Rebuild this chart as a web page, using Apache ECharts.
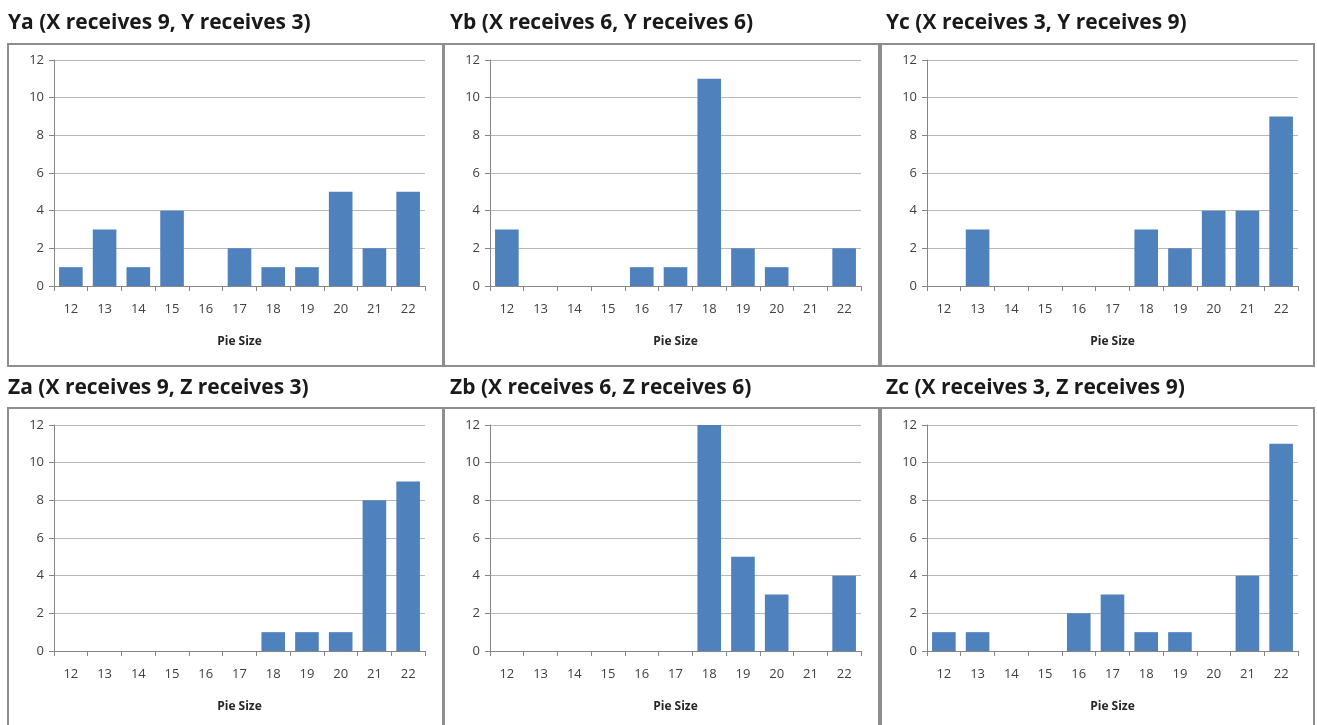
<!DOCTYPE html>
<html>
<head>
<meta charset="utf-8">
<script src="https://cdn.jsdelivr.net/npm/echarts@6/dist/echarts.min.js"></script>
<style>
html,body{margin:0;padding:0;background:#fff;}
#c{width:1317px;height:725px;}
</style>
</head>
<body>
<div id="c"></div>
<script>
const categories = ['12','13','14','15','16','17','18','19','20','21','22'];
const titles = [
  'Ya (X receives 9, Y receives 3)',
  'Yb (X receives 6, Y receives 6)',
  'Yc (X receives 3, Y receives 9)',
  'Za (X receives 9, Z receives 3)',
  'Zb (X receives 6, Z receives 6)',
  'Zc (X receives 3, Z receives 9)'
];
const Ya = [1,3,1,4,0,2,1,1,5,2,5];
const Yb = [3,0,0,0,1,1,11,2,1,0,2];
const Yc = [0,3,0,0,0,0,3,2,4,4,9];
const Za = [0,0,0,0,0,0,1,1,1,8,9];
const Zb = [0,0,0,0,0,0,12,5,3,0,4];
const Zc = [1,1,0,0,2,3,1,1,0,4,11];
const panels = [Ya, Yb, Yc, Za, Zb, Zc];
const xAxisName = 'Pie Size';

const gridLefts = [54, 490, 927];
const gridTops = [60, 425];
const boxX = [[8,443],[444,879],[881,1314]];
const boxY = [[44,366],[408,740]];
const titleX = [8, 450, 886];
const titleY = [13, 378];

const option = {
  animation:false,
  backgroundColor:'#fff',
  title:[], grid:[], xAxis:[], yAxis:[], series:[],
  graphic:[]
};
for (let i=0;i<6;i++){
  const r = Math.floor(i/3), c = i%3;
  option.graphic.push({
    type:'rect', silent:true, z:-1,
    shape:{x:boxX[c][0], y:boxY[r][0], width:boxX[c][1]-boxX[c][0], height:boxY[r][1]-boxY[r][0]},
    style:{fill:'#fff', stroke:'#8e8e8e', lineWidth:2}
  });
  option.title.push({
    text:titles[i], left:titleX[c], top:titleY[r], padding:0,
    textStyle:{fontFamily:'Open Sans', fontWeight:'bold', fontSize:21, color:'#1a1a1a'}
  });
  option.grid.push({left:gridLefts[c], top:gridTops[r], width:371, height:226});
  option.xAxis.push({
    type:'category', gridIndex:i, data:categories,
    name:xAxisName, nameLocation:'middle', nameGap:50,
    nameTextStyle:{fontFamily:'Open Sans', fontWeight:'bold', fontSize:12, color:'#262626'},
    axisLine:{lineStyle:{color:'#868686', width:1}},
    axisTick:{show:true, alignWithLabel:false, length:5, lineStyle:{color:'#868686'}},
    axisLabel:{fontFamily:'Open Sans', fontSize:13, color:'#404040', margin:17}
  });
  option.yAxis.push({
    type:'value', gridIndex:i, min:0, max:12, interval:2,
    axisLine:{show:true, lineStyle:{color:'#868686', width:1}},
    axisTick:{show:true, length:5, lineStyle:{color:'#868686'}},
    splitLine:{lineStyle:{color:'#b8b8b8', width:1}},
    axisLabel:{fontFamily:'Open Sans', fontSize:13, color:'#404040', margin:10}
  });
  option.series.push({
    type:'bar', xAxisIndex:i, yAxisIndex:i, data:panels[i],
    barCategoryGap:'30%',
    itemStyle:{color:'#4f81bd'}
  });
}
const chart = echarts.init(document.getElementById('c'));
chart.setOption(option);
</script>
</body>
</html>
